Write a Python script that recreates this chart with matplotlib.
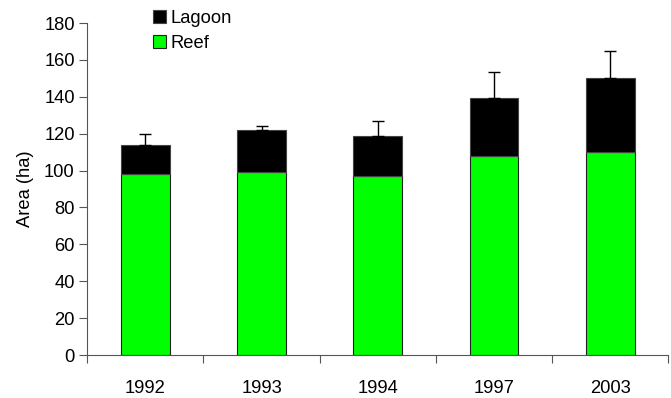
import matplotlib
matplotlib.use("Agg")
import matplotlib.pyplot as plt
import numpy as np

plt.rcParams['font.family'] = ['Liberation Sans', 'DejaVu Sans']

years = ["1992", "1993", "1994", "1997", "2003"]
reef = [98, 99, 97, 108, 110]
lagoon = [16, 23, 22, 31.5, 40]
lagoon_err = [6, 2, 8, 14, 15]

FS = 13.2

fig = plt.figure(figsize=(6.71, 3.98), dpi=100)
ax = fig.add_axes([0.130, 0.108, 0.866, 0.834])

x = np.arange(len(years))
w = 0.42
ax.bar(x, reef, w, color='#00ff00', edgecolor='#222222', linewidth=0.8, label='Reef', zorder=2)
ax.bar(x, lagoon, w, bottom=reef, color='black', edgecolor='#444444', linewidth=0.8,
       label='Lagoon', zorder=2)
totals = np.array(reef) + np.array(lagoon)
ax.errorbar(x, totals, yerr=[np.zeros(len(x)), lagoon_err], fmt='none', ecolor='black',
            elinewidth=1, capsize=4, capthick=1, zorder=3)

ax.set_xlim(-0.5, len(years) - 0.5)
ax.set_ylim(0, 180)
ax.set_yticks(np.arange(0, 181, 20))
ax.set_xticks(np.arange(-0.5, len(years), 1.0))
ax.set_xticklabels([])
ax.set_xticks(x, minor=True)
ax.set_xticklabels(years, minor=True)
ax.tick_params(axis='x', which='minor', length=0, pad=18, labelsize=FS)
ax.tick_params(axis='x', which='major', length=6, direction='out', color='#555555')
ax.tick_params(axis='y', length=6, direction='out', color='#555555', labelsize=FS, pad=3)
for s in ['top', 'right']:
    ax.spines[s].set_visible(False)
for s in ['left', 'bottom']:
    ax.spines[s].set_color('#555555')
ax.set_ylabel('Area (ha)', fontsize=FS, labelpad=7)

handles, labels = ax.get_legend_handles_labels()
fig.legend(handles[::-1], labels[::-1], loc='upper left', bbox_to_anchor=(0.222, 0.985),
           frameon=False, fontsize=FS, handlelength=0.72, handleheight=0.72,
           handletextpad=0.25, labelspacing=0.46, borderaxespad=0, borderpad=0.2)

fig.savefig('out.png', dpi=100)
